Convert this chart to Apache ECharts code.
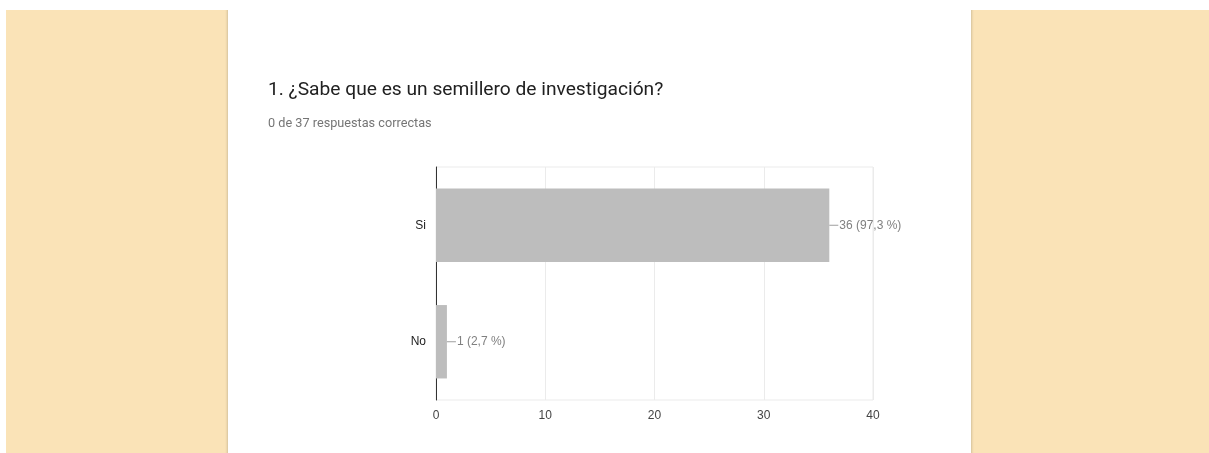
<!DOCTYPE html>
<html>
<head>
<meta charset="utf-8">
<script src="https://cdn.jsdelivr.net/npm/echarts@6/dist/echarts.min.js"></script>
<style>
  html, body { margin: 0; padding: 0; background: #ffffff; }
  #chart { width: 1209px; height: 453px; }
</style>
</head>
<body>
<div id="chart"></div>
<script>
// Answers to question 1 and their counts
const categories = ['Si', 'No'];
const counts = [36, 1];
const totalResponses = 37;
const xTicks = [0, 10, 20, 30, 40];

const titleText = '1. ¿Sabe que es un semillero de investigación?';
const subtitleText = '0 de 37 respuestas correctas';

function pctLabel(v) {
  const pct = (v / totalResponses * 100).toFixed(1).replace('.', ',');
  return v + ' (' + pct + ' %)';
}

const chart = echarts.init(document.getElementById('chart'), null, { renderer: 'canvas' });

const panelColor = '#fae3b7';

chart.setOption({
  backgroundColor: '#ffffff',
  animation: false,
  graphic: [
    // side panels
    { type: 'rect', z: -10, shape: { x: 6, y: 10, width: 222, height: 443 }, style: { fill: panelColor } },
    { type: 'rect', z: -10, shape: { x: 971, y: 10, width: 238, height: 443 }, style: { fill: panelColor } },
    // white card with soft edge shadow
    { type: 'rect', z: -9, shape: { x: 228, y: -20, width: 743, height: 490 },
      style: { fill: '#ffffff', shadowBlur: 3, shadowColor: 'rgba(0,0,0,0.28)' } },
    // plain top strip
    { type: 'rect', z: -8, shape: { x: 0, y: 0, width: 1209, height: 10 }, style: { fill: '#ffffff' } }
  ],
  title: [
    {
      text: titleText,
      left: 268, top: 81, padding: 0,
      textStyle: { fontFamily: 'Roboto', fontSize: 19.2, fontWeight: 'normal', color: '#212121' }
    },
    {
      text: subtitleText,
      left: 268, top: 117, padding: 0,
      textStyle: { fontFamily: 'Roboto', fontSize: 12.7, fontWeight: 'normal', color: '#757575' }
    }
  ],
  grid: {
    left: 436, right: 336, top: 167, bottom: 53,
    show: true, borderColor: '#ebebeb', borderWidth: 1, backgroundColor: 'transparent'
  },
  xAxis: {
    type: 'value',
    min: xTicks[0], max: xTicks[xTicks.length - 1], interval: 10,
    axisLine: { show: false },
    axisTick: { show: false },
    splitLine: { lineStyle: { color: '#ebebeb', width: 1 } },
    axisLabel: { fontFamily: 'Liberation Sans, Arial', fontSize: 12, color: '#444444', margin: 10 }
  },
  yAxis: {
    type: 'category',
    data: categories,
    inverse: true,
    axisLine: { lineStyle: { color: '#333333', width: 1 } },
    axisTick: { show: false },
    axisLabel: { fontFamily: 'Liberation Sans, Arial', fontSize: 12, color: '#222222', margin: 10 }
  },
  series: [{
    type: 'bar',
    data: counts,
    barWidth: '63%',
    itemStyle: { color: '#bdbdbd' },
    label: {
      show: true,
      position: 'right',
      distance: 0,
      formatter: function (p) { return '{l|}{t|' + pctLabel(p.value) + '}'; },
      rich: {
        l: { width: 9, height: 1, backgroundColor: '#9e9e9e' },
        t: { fontFamily: 'Liberation Sans, Arial', fontSize: 12, color: '#808080', padding: [0, 0, 0, 1] }
      }
    }
  }]
});
</script>
</body>
</html>
